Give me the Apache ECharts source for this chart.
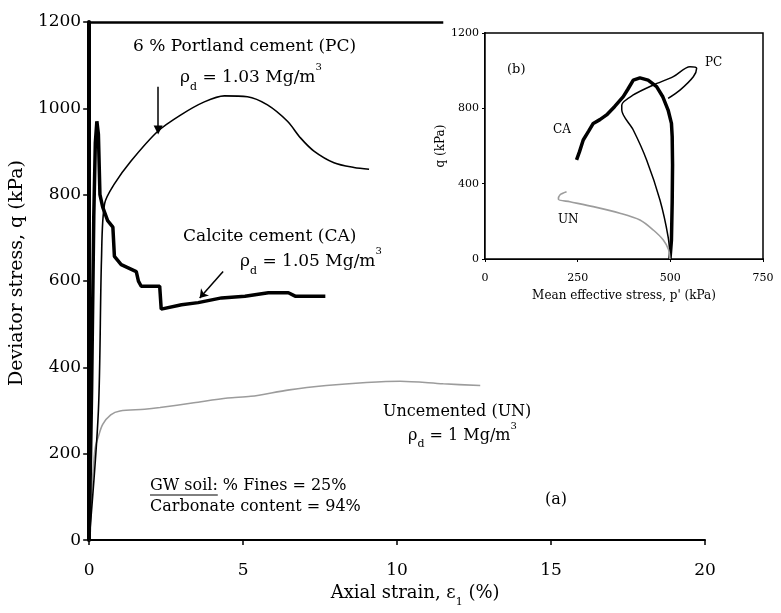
<!DOCTYPE html>
<html><head><meta charset="utf-8">
<script src="https://cdn.jsdelivr.net/npm/echarts@6/dist/echarts.min.js"></script>
<style>html,body{margin:0;padding:0;background:#fff}#c{width:781px;height:613px}</style>
</head><body><div id="c"></div>
<script>
// ---- Main plot (a): deviator stress vs axial strain ----
const xTicks = [0, 5, 10, 15, 20];
const yTicks = [0, 200, 400, 600, 800, 1000, 1200];
const unStrain = [0,0.05,0.1,0.15,0.2,0.3,0.44,0.7,1.0,1.8,2.3,3.4,4.5,5.25,6.5,7.7,9.0,10.1,11.5,12.7];
const unQ      = [0,60,130,180,215,240,268,290,299,303,307,318,329,333,348,358,365,368,362,358];
const caStrain = [0,0.08,0.15,0.2,0.25,0.3,0.35,0.44,0.6,0.77,0.82,1.04,1.53,1.6,1.69,2.29,2.34,3.0,3.54,4.3,5.06,5.82,6.47,6.69,7.67];
const caQ      = [0,350,750,920,970,940,800,771,740,725,657,638,622,600,588,588,535,545,550,561,565,573,573,565,565];
const pcStrain = [0,0.3,0.4,0.5,0.82,1.36,2.23,2.98,3.74,4.39,5.14,5.79,6.44,6.87,7.3,7.95,8.6,9.09];
const pcQ      = [0,300,650,779,825,878,947,985,1015,1029,1027,1008,970,931,901,874,863,859];
// ---- Inset (b): q vs mean effective stress p' ----
const insetXTicks = [0, 250, 500, 750];
const insetYTicks = [0, 400, 800, 1200];
const caP = [499,503,505,506,505,503,494,480,463,440,418,400,385,373,350,328,310,292,280,265,255,247];
const caPQ= [0,100,300,500,650,720,791,860,915,950,962,950,900,862,810,765,740,720,680,632,570,526];
const pcP = [500,494,472,436,400,369,369,400,454,508,553,571,562,526,494];
const pcPQ= [0,118,313,526,685,791,818,871,924,968,1021,1013,968,897,853];
const unP = [499,495,481,454,418,364,292,229,198,202,220];
const unPQ= [0,50,101,154,207,243,278,304,317,340,357];

const zip = (a, b) => a.map((v, i) => [v, b[i]]);
const F = 'DejaVu Serif';
const chart = echarts.init(document.getElementById('c'));

function txt(x, y, text, size) {
  return { type: 'text', x: x, y: y, z: 100,
    style: { text: text, font: size + 'px "' + F + '"', fill: '#000', align: 'left', verticalAlign: 'middle' } };
}
function rhoText(x, y, val, size) {
  const rich = {
    a: { fontFamily: F, fontSize: size, color: '#000' },
    s: { fontFamily: F, fontSize: 11, color: '#000', verticalAlign: 'bottom', padding: [0,0,-6,0] },
    p: { fontFamily: F, fontSize: 10, color: '#000', verticalAlign: 'top', padding: [-7,0,0,0] }
  };
  return { type: 'text', x: x, y: y, z: 100,
    style: { text: '{a|ρ}{s|d}{a| = ' + val + ' Mg/m}{p|3}', rich: rich, fill: '#000', align: 'left', verticalAlign: 'middle' } };
}
const mctx = document.createElement('canvas').getContext('2d');
mctx.font = '16px "' + F + '"';
const gwW = mctx.measureText('GW soil:').width;

const axisCommon = {
  axisLine: { show: true, onZero: false, lineStyle: { color: '#000', width: 2 } },
  axisTick: { show: true, inside: false, length: 5, lineStyle: { color: '#000', width: 1.5 } },
  splitLine: { show: false },
};
const plain = v => String(v);

chart.setOption({
  animation: false,
  backgroundColor: '#fff',
  grid: [
    { left: 88, right: 76, top: 22, bottom: 66 },
    { left: 485, right: 18, top: 33, bottom: 354, show: true, borderColor: '#000', borderWidth: 1.5, backgroundColor: '#fff', z: 5 }
  ],
  xAxis: [
    Object.assign({ type: 'value', gridIndex: 0, min: 0, max: 20, interval: 5,
      axisLabel: { fontFamily: F, fontSize: 17, color: '#000', margin: 22, formatter: plain },
      name: 'Axial strain, ε{s|1} (%)', nameLocation: 'middle', nameGap: 42,
      nameTextStyle: { fontFamily: F, fontSize: 18, color: '#000', padding: [0, 0, 0, 36],
        rich: { s: { fontFamily: F, fontSize: 11, verticalAlign: 'bottom', padding: [0,0,-6,0] } } } }, axisCommon),
    Object.assign({ type: 'value', gridIndex: 1, min: 0, max: 750, interval: 250,
      axisLabel: { fontFamily: F, fontSize: 11, color: '#000', margin: 14, formatter: plain },
      name: "Mean effective stress, p' (kPa)", nameLocation: 'middle', nameGap: 31,
      nameTextStyle: { fontFamily: F, fontSize: 12, color: '#000' } }, axisCommon, { axisTick: { show: true, length: 3, lineStyle: { color: '#000' } } })
  ],
  yAxis: [
    Object.assign({ type: 'value', gridIndex: 0, min: 0, max: 1200, interval: 200,
      axisLabel: { fontFamily: F, fontSize: 17, color: '#000', margin: 8, formatter: plain },
      name: 'Deviator stress, q (kPa)', nameLocation: 'middle', nameGap: 53,
      nameTextStyle: { fontFamily: F, fontSize: 19, color: '#000', padding: [0, 0, 0, 16] } }, axisCommon,
      { axisLine: { show: true, onZero: false, lineStyle: { color: '#000', width: 4 } }, axisTick: { show: true, length: 6, lineStyle: { color: '#000', width: 1.5 } } }),
    Object.assign({ type: 'value', gridIndex: 1, min: 0, max: 1200, interval: 400,
      axisLabel: { fontFamily: F, fontSize: 11, color: '#000', margin: 6, formatter: plain },
      name: 'q (kPa)', nameLocation: 'middle', nameGap: 29,
      nameTextStyle: { fontFamily: F, fontSize: 12, color: '#000' } }, axisCommon, { axisTick: { show: true, length: 3, lineStyle: { color: '#000' } } })
  ],
  series: [
    { name: 'UN', type: 'line', xAxisIndex: 0, yAxisIndex: 0, data: zip(unStrain, unQ), showSymbol: false, smooth: 0.3,
      lineStyle: { color: '#9c9c9c', width: 1.6 } },
    { name: 'CA', type: 'line', xAxisIndex: 0, yAxisIndex: 0, data: zip(caStrain, caQ), showSymbol: false,
      lineStyle: { color: '#000', width: 3.5 } },
    { name: 'PC', type: 'line', xAxisIndex: 0, yAxisIndex: 0, data: zip(pcStrain, pcQ), showSymbol: false, smooth: 0.3,
      lineStyle: { color: '#000', width: 1.6 },
      markLine: { silent: true, symbol: ['none', 'none'], label: { show: false }, animation: false,
        data: [
          [{ coord: [0, 1200], lineStyle: { color: '#000', width: 2.5, type: 'solid' } }, { coord: [11.5, 1200] }],
          [{ coord: [2.24, 1050], symbol: 'none', lineStyle: { color: '#000', width: 1.5, type: 'solid' } }, { coord: [2.24, 950], symbol: 'triangle', symbolSize: [9, 9], symbolRotate: 180 }],
          [{ coord: [4.35, 622], symbol: 'none', lineStyle: { color: '#000', width: 1.5, type: 'solid' } }, { coord: [3.59, 561], symbol: 'arrow', symbolSize: 8 }]
        ] } },
    { name: 'CA-b', type: 'line', xAxisIndex: 1, yAxisIndex: 1, data: zip(caP, caPQ), showSymbol: false, z: 10,
      lineStyle: { color: '#000', width: 3.5 } },
    { name: 'PC-b', type: 'line', xAxisIndex: 1, yAxisIndex: 1, data: zip(pcP, pcPQ), showSymbol: false, smooth: 0.3, z: 10,
      lineStyle: { color: '#000', width: 1.5 } },
    { name: 'UN-b', type: 'line', xAxisIndex: 1, yAxisIndex: 1, data: zip(unP, unPQ), showSymbol: false, smooth: 0.3, z: 10,
      lineStyle: { color: '#9c9c9c', width: 1.6 } }
  ],
  graphic: [
    txt(133, 47, '6 % Portland cement (PC)', 17),
    rhoText(180, 78, '1.03', 17),
    txt(183, 237, 'Calcite cement (CA)', 17),
    rhoText(240, 262, '1.05', 17),
    txt(383, 412, 'Uncemented (UN)', 16),
    rhoText(408, 436, '1', 16),
    txt(150, 486, 'GW soil: % Fines = 25%', 16),
    { type: 'line', z: 100, shape: { x1: 150, y1: 495, x2: 150 + gwW, y2: 495 }, style: { stroke: '#000', lineWidth: 1 } },
    txt(150, 507, 'Carbonate content = 94%', 16),
    txt(545, 500, '(a)', 16),
    txt(507, 70, '(b)', 13),
    txt(705, 63, 'PC', 12),
    txt(553, 130, 'CA', 12),
    txt(558, 220, 'UN', 12)
  ]
});
</script></body></html>
